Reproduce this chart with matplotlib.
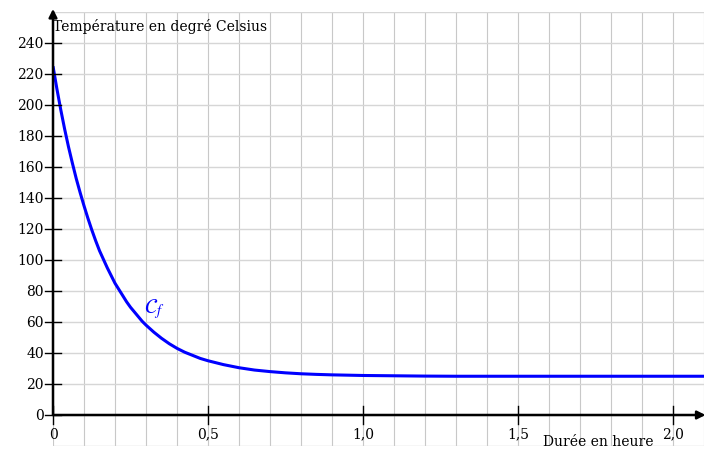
import matplotlib

matplotlib.use("Agg")
import matplotlib.pyplot as plt

# values (duration in hours, temperature in °C)
t_hours = [0, 0.0125, 0.025, 0.0375, 0.05, 0.0625, 0.075, 0.0875, 0.1, 0.1125,
           0.125, 0.1375, 0.15, 0.1625, 0.175, 0.1875, 0.2, 0.2125, 0.225,
           0.2375, 0.25, 0.2625, 0.275, 0.2875, 0.3, 0.325, 0.35, 0.375, 0.4,
           0.425, 0.45, 0.475, 0.5, 0.55, 0.6, 0.65, 0.7, 0.75, 0.8, 0.85,
           0.9, 0.95, 1.0, 1.1, 1.2, 1.3, 1.4, 1.5, 1.6, 1.7, 1.8, 1.9, 2.0, 2.1]
temperature = [225, 210.5, 197, 184.5, 173, 162.5, 152.5, 143.5, 135, 127,
               119.5, 112.5, 106, 100.5, 95, 90, 85, 81, 77,
               73, 69.5, 66.5, 63.5, 60.5, 58, 53.5, 49.5, 46, 43,
               40.5, 38.5, 36.5, 35, 32.5, 30.5, 29, 28, 27.2, 26.6, 26.2,
               25.9, 25.7, 25.5, 25.3, 25.1, 25, 25, 25, 25, 25, 25, 25, 25, 25]

x_ticks = [0, 0.5, 1.0, 1.5, 2.0]
x_tick_labels = ["0", "0,5", "1,0", "1,5", "2,0"]
y_ticks = list(range(0, 241, 20))

plt.rcParams["font.family"] = ["DejaVu Serif"]
plt.rcParams["mathtext.fontset"] = "stix"

W, H = 713, 452
fig = plt.figure(figsize=(W / 100, H / 100), dpi=100)
ax = fig.add_axes([53 / W, 1 - 447 / H, (704 - 53) / W, (447 - 13) / H])
ax.set_xlim(0, 2.1)
ax.set_ylim(-20, 260)
ax.axis("off")

grid_kw = dict(color="#c8c8c8", linewidth=0.8, zorder=1)
for i in range(22):
    ax.plot([i * 0.1, i * 0.1], [-20, 260], **grid_kw)
for v in range(-20, 261, 20):
    ax.plot([0, 2.1], [v, v], color="#d6d6d6", linewidth=1.0, zorder=1)

# axes with arrows
ax.annotate("", xy=(2.105, 0), xytext=(0, 0),
            arrowprops=dict(arrowstyle="-|>", color="black", lw=1.8,
                            mutation_scale=12, shrinkA=0, shrinkB=0),
            annotation_clip=False, zorder=4)
ax.annotate("", xy=(0, 262), xytext=(0, 0),
            arrowprops=dict(arrowstyle="-|>", color="black", lw=1.8,
                            mutation_scale=12, shrinkA=0, shrinkB=0),
            annotation_clip=False, zorder=4)

for v in y_ticks:
    ax.plot([-0.027, 0.027], [v, v], color="black", linewidth=1.0,
            clip_on=False, zorder=4)
    ax.text(-0.03, v, str(v), ha="right", va="center", fontsize=10)
for v, lab in zip(x_ticks, x_tick_labels):
    ax.plot([v, v], [-6, 6], color="black", linewidth=1.0, clip_on=False, zorder=4)
    ax.text(v, -7.5, lab, ha="center", va="top", fontsize=10)

ax.plot(t_hours, temperature, color="#0000ff", linewidth=2.2, zorder=3,
        solid_capstyle="butt")
ax.text(0.295, 69, r"$\mathcal{C}_f$", color="#0000ff", fontsize=15,
        ha="left", va="center")

ax.text(0.0, 251, "Température en degré Celsius", ha="left", va="center",
        fontsize=10)
ax.text(1.76, -17, "Durée en heure", ha="center", va="center", fontsize=10)

fig.savefig("out.png", dpi=100, facecolor="white")
